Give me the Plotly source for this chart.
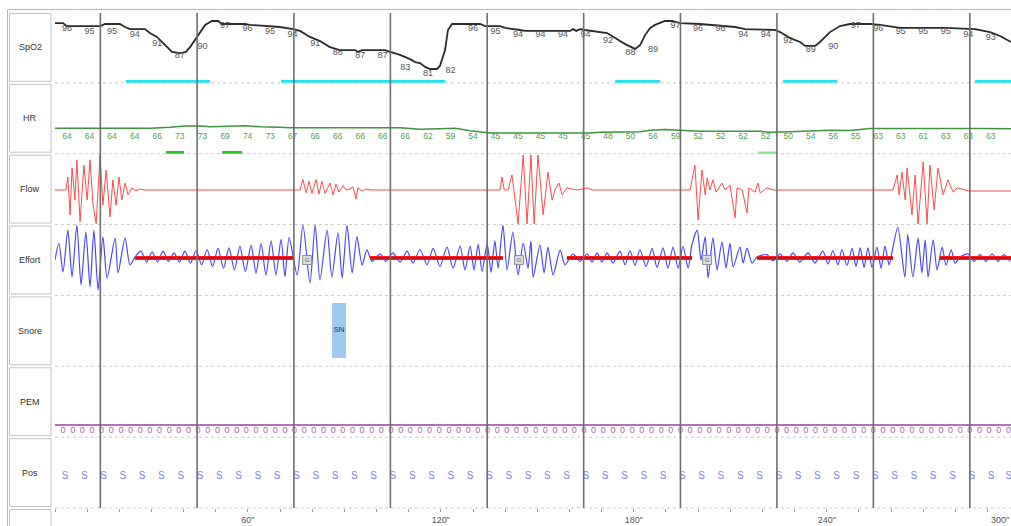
import plotly.graph_objects as go

# ---------------- data (time in seconds) ----------------
x_end = 297.3
epoch_t = [14.1, 44.2, 74.3, 104.3, 134.4, 164.4, 194.5, 224.5, 254.5, 284.5]
tick_vals = [60, 120, 180, 240]
tick_text = ['60"', '120"', '180"', '240"']
last_tick_text = '300"'

row_names = ["SpO2", "HR", "Flow", "Effort", "Snore", "PEM", "Pos"]

# SpO2 trace
spo2_t = [0.0, 2.5, 3.7, 14.0, 15.6, 20.2, 21.8, 23.3, 28.0, 29.5, 31.7, 34.2, 36.4, 38.9, 40.7, 42.0, 43.5,
          45.1, 46.7, 48.8, 50.7, 51.9, 59.1, 60.6, 66.9, 70.0, 74.0, 76.2, 79.3, 82.4, 85.5, 88.6, 93.3,
          94.2, 95.5, 102.6, 104.2, 107.3, 110.4, 112.0, 113.5, 115.1, 116.6, 118.8, 119.7, 121.3, 122.2,
          123.5, 132.2, 133.7, 138.4, 140.0, 144.6, 146.2, 160.2, 161.1, 162.1, 163.3, 164.8, 169.5, 171.7,
          174.2, 177.3, 180.4, 182.0, 183.5, 185.1, 186.6, 189.7, 191.9, 194.4, 200.6, 209.9, 211.5, 214.6,
          223.9, 225.5, 228.6, 231.7, 233.3, 236.4, 237.9, 241.0, 244.1, 247.2, 253.5, 256.6, 262.8, 276.8,
          286.1, 290.8, 293.9, 297.3]
spo2_v = [96.3, 96.3, 95.3, 95.3, 96, 96, 95, 94.3, 94.3, 93, 91.7, 89, 86.7, 86.3, 86.7, 88.3, 90.7,
          93.3, 95.7, 97, 97, 96, 96, 95.7, 95.3, 95, 94.3, 93.7, 91.7, 90.3, 88.3, 87.3, 87.3,
          86.7, 87.3, 87.3, 86.7, 85.7, 84.3, 83.3, 83, 81.7, 81, 81, 82, 87.3, 94,
          96, 96, 95.3, 95.3, 94.7, 94, 93.7, 93.7, 94.3, 93.7, 94.3, 94, 93.3, 93,
          91.3, 89.3, 87.7, 89, 92.3, 94.7, 95.7, 97, 97, 96.3, 96, 95.3, 95, 94.3,
          94, 93.3, 91.3, 90, 88.7, 88.7, 90, 93.3, 95.3, 96, 96, 95.7, 94.7, 94.7,
          94.3, 93.3, 92, 90]
label_t = [3.7, 10.7, 17.7, 24.8, 31.8, 38.8, 45.9, 52.9, 59.9, 66.9, 73.9, 80.9, 87.9, 94.9,
           101.9, 108.9, 116.0, 123.0, 130.0, 137.0, 144.0, 151.0, 158.0, 165.0, 172.0, 179.0,
           186.0, 193.0, 200.0, 207.0, 214.0, 221.0, 228.0, 235.0, 242.0, 249.0, 256.0, 263.0,
           270.0, 277.0, 284.0, 291.0]
spo2_labels = [96, 95, 95, 94, 91, 87, 90, 97, 96, 95, 94, 91, 88, 87, 87, 83, 81, 82, 96, 95, 94,
               94, 94, 94, 92, 88, 89, 97, 96, 96, 94, 94, 92, 89, 90, 97, 96, 95, 95, 95, 94, 93]
desat_start = [22.1, 70.3, 174.2, 226.4, 286.1]
desat_end = [48.2, 121.3, 188.2, 243.2, 297.3]

# HR trace
hr_t = [0.0, 23.3, 24.9, 29.5, 35.8, 40.4, 45.1, 48.2, 59.1, 63.8, 70.0, 73.1, 107.3, 113.5, 119.7,
        124.4, 129.1, 135.3, 166.4, 169.5, 182.0, 185.1, 189.7, 194.4, 200.6, 219.3, 222.4, 228.6,
        234.8, 241.0, 247.2, 253.5, 287.7, 297.3]
hr_v = [64, 64, 62, 64, 68, 73, 73, 70, 74, 70, 68, 66, 66, 60, 62, 64, 54, 45, 45, 48, 50, 56, 59,
        57, 52, 52, 48, 50, 54, 56, 55, 63, 63, 62]
hr_labels = [64, 64, 64, 64, 66, 73, 73, 69, 74, 73, 67, 66, 66, 66, 66, 66, 62, 59, 54, 45, 45, 45,
             45, 45, 48, 50, 56, 59, 52, 52, 52, 52, 50, 54, 56, 55, 63, 63, 61, 63, 63, 63]
hr_ev_start = [34.5, 51.9]
hr_ev_end = [40.1, 58.2]
hr_ev2_start = [218.7]
hr_ev2_end = [224.6]

# Flow trace
flow_t = [0.0, 3.4, 4.0, 4.7, 5.3, 6.2, 6.8, 7.8, 9.0, 10.0, 10.9, 11.8, 12.8, 14.0, 14.9, 15.9, 17.1,
          18.0, 19.0, 19.9, 20.8, 21.8, 22.7, 23.9, 25.2, 26.4, 28.0,
          76.2, 77.1, 78.1, 79.0, 79.9, 81.2, 82.1, 83.0, 84.0, 85.5, 86.5, 87.4, 88.3, 89.6, 90.5, 91.7,
          92.7, 93.6, 94.2, 95.5, 96.7, 98.0,
          138.4, 139.0, 139.7, 140.9, 142.1, 143.1, 144.0, 145.6, 146.8, 148.0, 149.0, 150.2, 151.8,
          153.3, 154.6, 155.5, 156.7, 157.7, 159.2, 162.3, 165.5, 167.0,
          197.5, 199.0, 200.0, 201.2, 202.2, 202.8, 203.7, 204.6, 205.6, 207.4, 208.4, 209.9, 211.5,
          212.1, 213.7, 215.2, 215.8, 217.7, 218.6, 219.3, 221.4, 223.3,
          260.6, 261.9, 262.5, 263.4, 264.4, 265.0, 266.5, 267.5, 268.4, 270.0, 271.2, 272.1, 273.4,
          274.6, 276.2, 277.7, 279.3, 280.5, 282.0, 284.5, 297.3]
flow_v = [0, 0, 0.37, -0.71, 0.63, -0.29, 0.86, -0.91, 0.71, -0.29, 0.86, -0.4, -0.97, 1.0, -0.43,
          0.57, -0.77, 0.29, -0.43, 0.37, -0.29, 0.2, -0.14, 0.06, -0.03, 0.03, 0,
          0, 0.3, -0.08, 0.25, -0.1, 0.3, -0.12, 0.25, -0.1, 0.2, -0.14, 0.17, -0.06, 0.12, 0, 0.03,
          0.09, -0.26, 0.06, -0.03, 0.03, 0,
          0, 0.37, 0, 0, 0.43, -0.29, -0.97, 1.0, -0.97, 1.0, -0.97, 1.0, -0.71, 0.51, -0.29, 0, 0.2,
          -0.14, 0.06, 0, 0.06, 0,
          0, 0.71, -0.86, 0.57, -0.14, 0.34, 0, 0.29, -0.06, 0.2, 0, 0.14, -0.8, 0.06, 0, -0.66, 0.06,
          -0.06, 0.2, -0.09, 0.06, 0,
          0, 0.43, -0.14, 0.51, -0.29, 0.63, -0.71, 0.43, -0.97, 0.8, -0.97, 0.71, -0.57, 0.63, -0.14,
          0.29, -0.06, 0.06, 0.03, -0.03, -0.03]

# Effort trace
effort_t = [0.0, 1.2, 2.5, 4.0, 5.3, 6.8, 8.1, 9.6, 10.9, 12.1, 13.4, 14.9, 16.2, 18.7, 19.6, 21.8, 23.3, 24.9,
            26.7, 28.5, 30.2, 31.9, 33.6, 35.3, 37.0, 38.7, 40.4, 42.1, 43.9, 45.6, 47.3, 49.0, 50.7, 52.4,
            54.1, 55.8, 57.5, 59.2, 61.0, 62.5, 64.1, 65.6, 67.2, 68.7, 70.3, 71.5, 72.8,
            75.3, 77.1, 79.3, 80.9, 82.4, 84.6, 86.1, 88.0, 89.3, 90.8, 92.4, 93.9, 95.5, 97.0, 98.6,
            101.1, 102.9, 105.1, 107.3, 109.5, 111.3, 113.5, 115.7, 117.6, 119.7, 121.9, 123.8, 126.0,
            127.5, 129.1, 130.3, 131.6, 132.8, 134.4, 135.6, 136.8, 137.8,
            139.3, 140.6, 142.4, 144.0, 145.6, 147.1, 148.0, 148.7, 150.8, 152.1, 153.3, 154.9, 157.1, 158.6,
            161.1, 163.3, 165.5, 167.0, 168.6, 170.1, 171.7, 173.5, 175.7, 177.3, 178.8, 180.4, 181.9,
            183.8, 185.7, 187.2, 189.1, 190.6, 192.2, 193.8, 195.3, 196.9, 198.1,
            199.7, 200.9, 202.2, 203.1, 204.6, 205.9, 207.4, 208.7, 209.9, 210.9, 213.0, 214.0, 215.2,
            216.8, 218.3,
            221.4, 223.3, 225.5, 227.6, 229.5, 231.6, 234.2, 236.3, 238.8, 240.4, 241.9, 243.5, 244.7,
            246.3, 247.9, 249.1, 250.4, 251.6, 252.8, 254.1, 255.6, 256.9, 258.1, 259.4,
            260.6, 262.1, 264.3, 265.2, 266.8, 268.4, 269.6, 270.6, 271.5, 273.1, 274.3, 275.9, 277.1,
            278.7, 279.9, 281.5,
            283.9, 285.8, 287.7, 289.5, 291.4, 293.3, 295.1, 297.0]
effort_v = [-0.06, 0.44, -0.41, 0.82, -0.56, 0.97, -0.79, 0.76, -0.85, 0.82, -0.94, 0.62, -0.59, 0.59, -0.44,
            0.59, -0.21, 0.03,
            0.2, -0.12, 0.18, -0.12, 0.2, -0.1, 0.15, -0.12, 0.2, -0.15, 0.22, -0.2, 0.25, -0.25, 0.28, -0.3,
            0.3, -0.35, 0.35, -0.4, 0.38, -0.45, 0.42, -0.5, 0.5, -0.5, 0.55, -0.55, 0.6,
            -0.5, 0.97, -0.74, 0.97, -0.65, 0.82, -0.56, 0.74, -0.59, 0.97, -0.44, 0.62, -0.21, 0.24, -0.1,
            0.12, -0.1, 0.15, -0.12, 0.2, -0.15, 0.25, -0.2, 0.28, -0.25, 0.32, -0.3, 0.35, -0.35, 0.35,
            -0.35, 0.4, -0.4, 0.42, -0.42, 0.5, -0.3,
            0.97, -0.35, 0.76, -0.5, 0.44, -0.3, 0.5, -0.56, 0.38, -0.44, 0.32, -0.5, 0.24, -0.2,
            0.12, -0.1, 0.12, -0.12, 0.15, -0.12, 0.15, -0.15, 0.2, -0.2, 0.22, -0.22, 0.25, -0.25, 0.28,
            -0.28, 0.3, -0.3, 0.32, -0.3, 0.35, -0.3, 0.4,
            0.82, -0.06, 0.62, -0.59, 0.59, -0.35, 0.47, -0.29, 0.44, -0.26, 0.32, -0.15, 0.29, -0.15, 0.03,
            0.1, -0.08, 0.12, -0.1, 0.15, -0.12, 0.15, -0.15, 0.2, -0.18, 0.22, -0.2, 0.25, -0.22, 0.28,
            -0.25, 0.3, -0.28, 0.3, -0.28, 0.32, -0.3, 0.35, -0.2,
            0.32, 0.91, -0.56, 0.68, -0.56, 0.59, -0.44, 0.53, -0.56, 0.53, -0.35, 0.32, -0.21, 0.24, -0.15, 0.03,
            0.12, -0.1, 0.1, -0.1, 0.12, -0.1, 0.1, -0.1]
apnea_start = [24.9, 98.0, 159.2, 218.3, 275.2]
apnea_end = [74.0, 139.3, 198.1, 260.6, 297.3]
arousal_t = [78.4, 144.3, 202.8]

# Snore
snore_start = [86.1]
snore_end = [90.5]
snore_text = ["SN"]

# PEM and position markers
pem_t = [2.5, 5.5, 8.5, 11.5, 14.5, 17.5, 20.5, 23.5, 26.5, 29.5, 32.5, 35.5, 38.5, 41.5, 44.5, 47.5,
         50.5, 53.5, 56.5, 59.5, 62.5, 65.5, 68.5, 71.5, 74.5, 77.5, 80.5, 83.5, 86.5, 89.5, 92.5, 95.5,
         98.5, 101.5, 104.5, 107.5, 110.5, 113.5, 116.5, 119.5, 122.5, 125.5, 128.5, 131.5, 134.5,
         137.5, 140.5, 143.5, 146.5, 149.5, 152.5, 155.5, 158.5, 161.5, 164.5, 167.5, 170.5, 173.5,
         176.5, 179.5, 182.5, 185.5, 188.5, 191.5, 194.5, 197.5, 200.5, 203.5, 206.5, 209.5, 212.5,
         215.5, 218.5, 221.5, 224.5, 227.5, 230.5, 233.5, 236.5, 239.5, 242.5, 245.5, 248.5, 251.5,
         254.5, 257.5, 260.5, 263.5, 266.5, 269.5, 272.5, 275.5, 278.5, 281.5, 284.5, 287.5, 290.5,
         293.5, 296.5]
pos_t = [3.1, 9.1, 15.1, 21.1, 27.1, 33.1, 39.1, 45.1, 51.1, 57.1, 63.1, 69.1, 75.1, 81.1, 87.1, 93.1,
         99.1, 105.1, 111.1, 117.1, 123.1, 129.1, 135.1, 141.1, 147.1, 153.1, 159.1, 165.1, 171.1,
         177.1, 183.1, 189.1, 195.1, 201.1, 207.1, 213.1, 219.1, 225.1, 231.1, 237.1, 243.1, 249.1,
         255.1, 261.1, 267.1, 273.1, 279.1, 285.1, 291.1, 296.6]

# ---------------- layout geometry ----------------
W, H = 1011, 526
PLOT_L, PLOT_T, PLOT_B = 55, 12, 508
ROW_H = (PLOT_B - PLOT_T) / 7.0
FONT = "Liberation Sans"

def xp(px):
    return px / W

def yp(py):
    return (PLOT_B - py) / (PLOT_B - PLOT_T)

# axis ranges (one row per channel)
y_ranges = [[76.38, 100], [-37.8, 245.6], [-0.989, 1.037], [-1.1, 0.982], [0, 1], [0, 1], [0, 1]]
desat_level = 76.7
hr_label_level = 29
hr_ev_level = -35
pem_line_level = 0.171
pem_mark_level = 0.086
pos_level = 0.45
snore_lo, snore_hi = 0.117, 0.893
arousal_level = -0.06


def segs(starts, ends, level):
    xs, ys = [], []
    for s, e in zip(starts, ends):
        xs += [s, e, None]
        ys += [level, level, None]
    return xs, ys

fig = go.Figure()

# SpO2
fig.add_trace(go.Scatter(x=spo2_t, y=spo2_v, mode="lines", yaxis="y",
                         line=dict(color="#2b2b2b", width=1.8)))
fig.add_trace(go.Scatter(x=label_t, y=spo2_labels, mode="text", yaxis="y",
                         text=[str(v) for v in spo2_labels], textposition="bottom center",
                         textfont=dict(size=9, color="#555555", family=FONT)))
sx, sy = segs(desat_start, desat_end, desat_level)
fig.add_trace(go.Scatter(x=sx, y=sy, mode="lines", yaxis="y", line=dict(color="#1fe3ef", width=4)))

# HR
fig.add_trace(go.Scatter(x=hr_t, y=hr_v, mode="lines", yaxis="y2",
                         line=dict(color="#3c963c", width=1.6)))
fig.add_trace(go.Scatter(x=label_t, y=[hr_label_level] * len(hr_labels), mode="text", yaxis="y2",
                         text=[str(v) for v in hr_labels], textposition="middle center",
                         textfont=dict(size=8.5, color="#4f9f4f", family=FONT)))
hx, hy = segs(hr_ev_start, hr_ev_end, hr_ev_level)
fig.add_trace(go.Scatter(x=hx, y=hy, mode="lines", yaxis="y2", line=dict(color="#22cc22", width=4)))
hx2, hy2 = segs(hr_ev2_start, hr_ev2_end, hr_ev_level)
fig.add_trace(go.Scatter(x=hx2, y=hy2, mode="lines", yaxis="y2", line=dict(color="#8fe08f", width=3)))

# Flow
fig.add_trace(go.Scatter(x=flow_t, y=flow_v, mode="lines", yaxis="y3",
                         line=dict(color="#ff4a4a", width=1)))

# Effort
fig.add_trace(go.Scatter(x=effort_t, y=effort_v, mode="lines", yaxis="y4",
                         line=dict(color="#4747ff", width=1.2, shape="spline", smoothing=0.7)))
ax, ay = segs(apnea_start, apnea_end, 0)
fig.add_trace(go.Scatter(x=ax, y=ay, mode="lines", yaxis="y4", line=dict(color="#ff1a1a", width=4)))
fig.add_trace(go.Scatter(x=ax, y=ay, mode="lines", yaxis="y4", line=dict(color="#7a1030", width=1)))
fig.add_trace(go.Scatter(x=arousal_t, y=[arousal_level] * len(arousal_t), mode="markers+text", yaxis="y4",
                         marker=dict(symbol="square", size=9, color="#dadada",
                                     line=dict(color="#8f8f8f", width=1)),
                         text=["G"] * len(arousal_t), textposition="middle center",
                         textfont=dict(size=6, color="#707070", family=FONT)))

# Snore
fig.add_trace(go.Bar(x=[(s + e) / 2 for s, e in zip(snore_start, snore_end)],
                     y=[snore_hi - snore_lo] * len(snore_start), base=[snore_lo] * len(snore_start),
                     width=[e - s for s, e in zip(snore_start, snore_end)], yaxis="y5",
                     marker=dict(color="#9dc9f3", line=dict(width=0))))
fig.add_trace(go.Scatter(x=[(s + e) / 2 for s, e in zip(snore_start, snore_end)],
                         y=[(snore_lo + snore_hi) / 2] * len(snore_start), mode="text", yaxis="y5",
                         text=snore_text, textfont=dict(size=8, color="#333333", family=FONT)))

# PEM
fig.add_trace(go.Scatter(x=[0, x_end], y=[pem_line_level, pem_line_level], mode="lines", yaxis="y6",
                         line=dict(color="#a03ca0", width=1.5)))
fig.add_trace(go.Scatter(x=pem_t, y=[pem_mark_level] * len(pem_t), mode="text", yaxis="y6",
                         text=["0"] * len(pem_t), textposition="middle center",
                         textfont=dict(size=9, color="#b25ab2", family=FONT)))

# Position
fig.add_trace(go.Scatter(x=pos_t, y=[pos_level] * len(pos_t), mode="text", yaxis="y7",
                         text=["S"] * len(pos_t), textposition="middle center",
                         textfont=dict(size=10, color="#7f7ff0", family=FONT)))

# ---------------- axes ----------------
layout = dict(
    width=W, height=H,
    margin=dict(l=0, r=0, t=PLOT_T, b=H - PLOT_B),
    paper_bgcolor="white", plot_bgcolor="white",
    showlegend=False,
    xaxis=dict(domain=[xp(PLOT_L), 1], range=[0, x_end], anchor="y7",
               tickvals=tick_vals, ticktext=tick_text, ticks="outside", ticklen=3,
               tickcolor="#9a9a9a", tickwidth=1,
               minor=dict(dtick=10, tick0=0, ticks="outside", ticklen=3, tickcolor="#9a9a9a"),
               tickfont=dict(size=9, color="#555555", family=FONT),
               showgrid=False, zeroline=False, showline=False, automargin=False, fixedrange=True),
)
for i in range(7):
    key = "yaxis" if i == 0 else f"yaxis{i + 1}"
    layout[key] = dict(domain=[(6 - i) / 7, (7 - i) / 7], range=y_ranges[i], anchor="x",
                       showticklabels=False, showgrid=False, zeroline=False, showline=False,
                       ticks="", fixedrange=True)
fig.update_layout(**layout)

shapes = []
# outer frame
shapes.append(dict(type="line", xref="paper", yref="paper", x0=xp(8), x1=xp(W), y0=yp(9.5), y1=yp(9.5),
                   line=dict(color="#b8b8b8", width=1)))
shapes.append(dict(type="line", xref="paper", yref="paper", x0=xp(7.5), x1=xp(7.5), y0=yp(9.5), y1=yp(H + 5),
                   line=dict(color="#b8b8b8", width=1)))
# label cells
for i in range(7):
    top = PLOT_T + ROW_H * i
    shapes.append(dict(type="rect", xref="paper", yref="paper", x0=xp(9.5), x1=xp(51),
                       y0=yp(top + 1.5), y1=yp(top + ROW_H - 1.5),
                       line=dict(color="#c2c2c2", width=1), fillcolor="rgba(0,0,0,0)"))
shapes.append(dict(type="rect", xref="paper", yref="paper", x0=xp(9.5), x1=xp(51),
                   y0=yp(PLOT_B + 1.5), y1=yp(H + 5),
                   line=dict(color="#c2c2c2", width=1), fillcolor="rgba(0,0,0,0)"))
# dashed row separators
for i in range(1, 8):
    yy = PLOT_T + ROW_H * i
    shapes.append(dict(type="line", xref="paper", yref="paper", x0=xp(PLOT_L), x1=1, y0=yp(yy), y1=yp(yy),
                       line=dict(color="#c9c9c9", width=1, dash="dot"), layer="below"))
# 30-s epoch lines
for t in epoch_t:
    shapes.append(dict(type="line", xref="x", yref="paper", x0=t, x1=t, y0=0, y1=yp(PLOT_T + 1),
                       line=dict(color="#6e6e6e", width=1.6)))
fig.update_layout(shapes=shapes)

ann = []
for i, name in enumerate(row_names):
    ann.append(dict(xref="paper", yref="paper", x=xp(30), y=yp(PLOT_T + ROW_H * (i + 0.5)),
                    text=name, showarrow=False, xanchor="center", yanchor="middle",
                    font=dict(size=9, color="#333333", family=FONT)))
ann.append(dict(xref="paper", yref="paper", x=1, y=yp(520), text=last_tick_text,
                showarrow=False, xanchor="right", yanchor="middle",
                font=dict(size=9, color="#555555", family=FONT)))
fig.update_layout(annotations=ann)

fig.write_html("out.html", config={"displayModeBar": False},
               post_script="document.body.style.margin='0';document.body.style.overflow='hidden';")
